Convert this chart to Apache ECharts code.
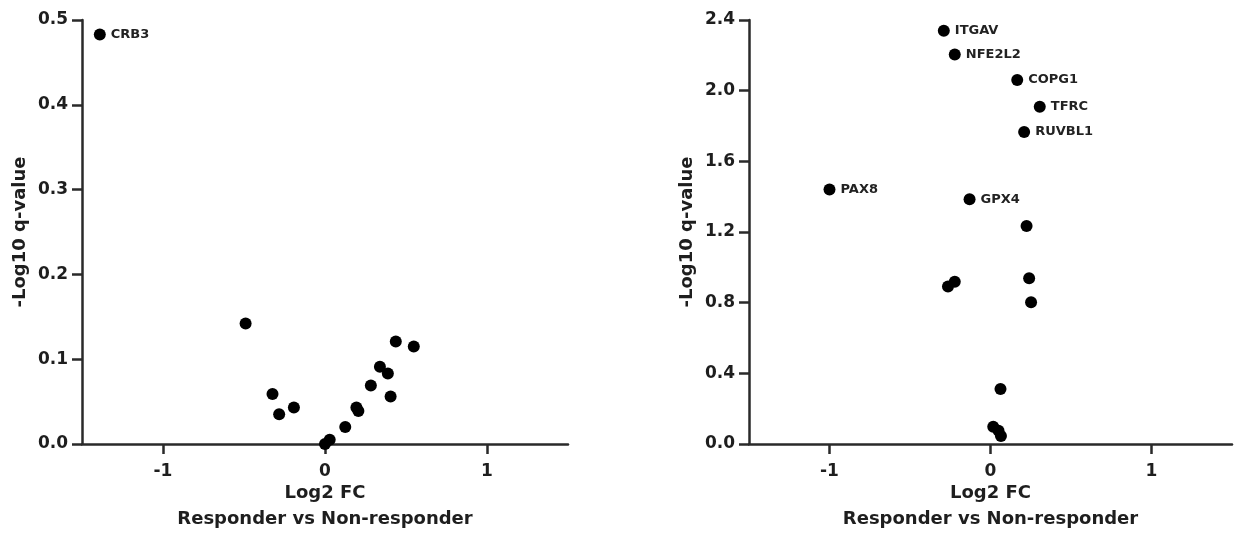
<!DOCTYPE html>
<html>
<head>
<meta charset="utf-8">
<script src="https://cdn.jsdelivr.net/npm/echarts@6/dist/echarts.min.js"></script>
<style>
html, body { margin: 0; padding: 0; background: #fff; }
#chart { width: 1240px; height: 544px; }
</style>
</head>
<body>
<div id="chart"></div>
<script>
// left panel
var leftX = [-1.39, -0.49, -0.324, -0.283, -0.192, 0.0, 0.029, 0.125, 0.194, 0.206, 0.283, 0.339, 0.388, 0.405, 0.437, 0.548]
var leftY = [0.483, 0.142, 0.059, 0.035, 0.043, 0.0, 0.005, 0.020, 0.043, 0.039, 0.069, 0.091, 0.083, 0.056, 0.121, 0.115]
var leftNames = ['CRB3', '', '', '', '', '', '', '', '', '', '', '', '', '', '', '']

// right panel
var rightX = [-0.29, -0.222, 0.166, 0.306, 0.209, -1.0, -0.13, 0.224, -0.264, -0.222, 0.24, 0.252, 0.062, 0.017, 0.05, 0.065]
var rightY = [2.339, 2.205, 2.06, 1.909, 1.766, 1.441, 1.385, 1.234, 0.891, 0.919, 0.938, 0.802, 0.311, 0.098, 0.075, 0.045]
var rightNames = ['ITGAV', 'NFE2L2', 'COPG1', 'TFRC', 'RUVBL1', 'PAX8', 'GPX4', '', '', '', '', '', '', '', '', '']

var xTicks = [-1, 0, 1]
var axisColor = '#2a2a2a'
var textColor = '#1e1e1e'
var fontName = 'DejaVu Sans'

function buildPoints(xs, ys, names) {
	var arr = []
	for(var i = 0; i < xs.length; i ++) {
		arr.push({ name: names[i], value: [xs[i], ys[i]] })
	}
	return arr
}

function xAxisOpt(idx) {
	return {
		gridIndex: idx,
		type: 'value',
		min: -1.5,
		max: 1.5,
		interval: 0.5,
		name: 'Log2 FC\nResponder vs Non-responder',
		nameLocation: 'middle',
		nameGap: 36,
		nameMoveOverlap: false,
		nameTextStyle: { color: textColor, fontFamily: fontName, fontWeight: 'bold', fontSize: 18, lineHeight: 26 },
		axisLine: { onZero: false, lineStyle: { color: axisColor, width: 2.5 } },
		axisTick: {
			length: 10,
			lineStyle: { color: axisColor, width: 2.5 },
			customValues: xTicks
		},
		axisLabel: {
			margin: 19,
			color: textColor,
			fontFamily: fontName,
			fontWeight: 'bold',
			fontSize: 17,
			customValues: xTicks
		},
		splitLine: { show: false }
	}
}

function yAxisOpt(idx, max, step) {
	return {
		gridIndex: idx,
		type: 'value',
		min: 0,
		max: max,
		interval: step,
		name: '-Log10 q-value',
		nameLocation: 'middle',
		nameGap: 53,
		nameTextStyle: { color: textColor, fontFamily: fontName, fontWeight: 'bold', fontSize: 18 },
		axisLine: { show: true, onZero: false, lineStyle: { color: axisColor, width: 2.5 } },
		axisTick: { show: true, length: 10, lineStyle: { color: axisColor, width: 2.5 } },
		axisLabel: {
			margin: 14,
			color: textColor,
			fontFamily: fontName,
			fontWeight: 'bold',
			fontSize: 17,
			formatter: function(v) { return v.toFixed(1) }
		},
		splitLine: { show: false }
	}
}

function seriesOpt(idx, data) {
	return {
		type: 'scatter',
		xAxisIndex: idx,
		yAxisIndex: idx,
		symbolSize: 12,
		itemStyle: { color: '#000', opacity: 1 },
		data: data,
		label: {
			show: true,
			position: 'right',
			distance: 5,
			color: '#222',
			fontFamily: fontName,
			fontWeight: 'bold',
			fontSize: 13,
			formatter: function(p) { return p.name }
		},
		emphasis: { disabled: true }
	}
}

var chart = echarts.init(document.getElementById('chart'))
var option = {
	backgroundColor: '#fff',
	animation: false,
	grid: [
		{ left: 82, top: 20, width: 486, height: 424 },
		{ left: 749, top: 20, width: 483, height: 424 }
	],
	xAxis: [xAxisOpt(0), xAxisOpt(1)],
	yAxis: [yAxisOpt(0, 0.5, 0.1), yAxisOpt(1, 2.4, 0.4)],
	series: [
		seriesOpt(0, buildPoints(leftX, leftY, leftNames)),
		seriesOpt(1, buildPoints(rightX, rightY, rightNames))
	]
}
chart.setOption(option)
</script>
</body>
</html>
